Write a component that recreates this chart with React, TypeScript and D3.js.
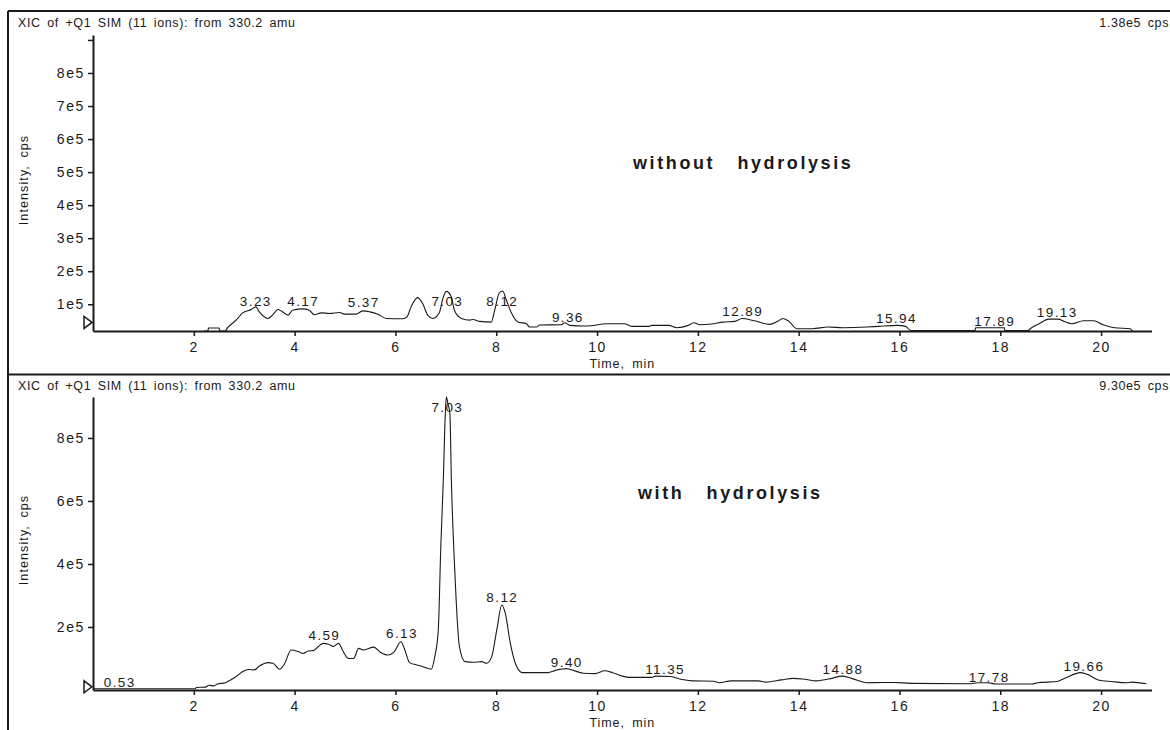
import React, { useRef, useEffect } from 'react';
import * as d3 from 'd3';

const headerText = 'XIC of +Q1 SIM (11 ions): from 330.2 amu';
const timeTicks = [2, 4, 6, 8, 10, 12, 14, 16, 18, 20];

// top panel: without hydrolysis
const topTitle = 'without  hydrolysis';
const topMaxLabel = '1.38e5 cps';
const topYTicks = [100000, 200000, 300000, 400000, 500000, 600000, 700000, 800000, 900000];
const topYLabelled = [100000, 200000, 300000, 400000, 500000, 600000, 700000, 800000];
const topTrace: [number, number][] = [
  [2.2, 19000], [2.28, 19000], [2.29, 28000], [2.5, 28000], [2.52, 19000], [2.62, 19000],
  [2.67, 29000], [2.84, 52000], [2.97, 74000], [3.14, 84000], [3.23, 92000], [3.3, 77000],
  [3.47, 57000], [3.56, 67000], [3.67, 84000], [3.73, 80000], [3.87, 67000], [3.96, 82000],
  [4.16, 86000], [4.29, 82000], [4.39, 68000], [4.53, 74000], [4.69, 72000], [4.89, 75000],
  [4.99, 70000], [5.22, 70000], [5.35, 80000], [5.49, 77000], [5.65, 70000], [5.82, 57000],
  [6.15, 56000], [6.23, 62000], [6.31, 92000], [6.44, 120000], [6.54, 102000], [6.64, 67000],
  [6.74, 57000], [6.87, 74000], [6.94, 117000], [7.01, 139000], [7.11, 122000], [7.17, 82000],
  [7.31, 57000], [7.47, 52000], [7.54, 54000], [7.67, 48000], [7.9, 46000], [7.97, 82000],
  [8.06, 134000], [8.13, 140000], [8.19, 117000], [8.3, 74000], [8.43, 46000], [8.6, 41000],
  [8.66, 31000], [8.8, 31000], [8.86, 37000], [9.29, 38000], [9.36, 44000], [9.46, 36000],
  [9.73, 34000], [9.88, 35000], [10.19, 41000], [10.54, 41000], [10.69, 33000], [11.04, 33000],
  [11.08, 36000], [11.42, 36000], [11.58, 29000], [11.81, 36000], [11.92, 44000], [12.04, 38000],
  [12.27, 40000], [12.5, 46000], [12.73, 48000], [12.88, 57000], [13.12, 50000], [13.42, 39000],
  [13.58, 48000], [13.69, 57000], [13.81, 48000], [13.96, 26000], [14.27, 26000], [14.58, 31000],
  [14.88, 29000], [15.35, 31000], [15.58, 33000], [15.96, 36000], [16.12, 33000], [16.23, 20000],
  [17.5, 20000], [17.51, 29000], [18.08, 29000], [18.09, 20000], [18.54, 20000], [18.62, 29000],
  [18.77, 41000], [18.96, 55000], [19.15, 55000], [19.27, 48000], [19.42, 41000], [19.65, 50000],
  [19.85, 50000], [20.04, 38000], [20.27, 29000], [20.58, 26000], [20.62, 19000],
];
// label text, retention time, label level (cps)
const topPeaks: [string, number, number][] = [
  ['3.23', 3.23, 109000], ['4.17', 4.17, 109000], ['5.37', 5.37, 105000], ['7.03', 7.03, 110000],
  ['8.12', 8.12, 110000], ['9.36', 9.42, 62000], ['12.89', 12.89, 80000], ['15.94', 15.94, 58000],
  ['17.89', 17.89, 49000], ['19.13', 19.13, 77000],
];

// bottom panel: with hydrolysis
const bottomTitle = 'with  hydrolysis';
const bottomMaxLabel = '9.30e5 cps';
const bottomYTicks = [200000, 400000, 600000, 800000];
const bottomTrace: [number, number][] = [
  [0, 4000], [2.03, 4000], [2.05, 8000], [2.23, 9000], [2.3, 15000], [2.4, 13000], [2.47, 19000],
  [2.63, 23000], [2.73, 32000], [2.83, 42000], [3.0, 61000], [3.1, 65000], [3.2, 64000],
  [3.3, 76000], [3.47, 87000], [3.57, 85000], [3.7, 66000], [3.8, 83000], [3.93, 127000],
  [4.07, 122000], [4.17, 116000], [4.27, 124000], [4.37, 125000], [4.47, 138000], [4.57, 148000],
  [4.67, 145000], [4.77, 138000], [4.87, 148000], [4.97, 120000], [5.07, 100000], [5.17, 100000],
  [5.27, 132000], [5.37, 127000], [5.57, 136000], [5.7, 120000], [5.85, 111000], [5.97, 120000],
  [6.11, 153000], [6.18, 130000], [6.28, 87000], [6.41, 80000], [6.55, 74000], [6.71, 66000],
  [6.78, 105000], [6.85, 190000], [6.9, 455000], [6.95, 667000], [6.99, 878000], [7.01, 930000],
  [7.04, 910000], [7.08, 878000], [7.11, 667000], [7.18, 370000], [7.27, 137000], [7.38, 90000],
  [7.55, 88000], [7.71, 90000], [7.81, 85000], [7.91, 106000], [8.01, 190000], [8.11, 270000],
  [8.18, 243000], [8.28, 148000], [8.39, 80000], [8.52, 55000], [9.02, 55000], [9.19, 63000],
  [9.39, 68000], [9.46, 66000], [9.73, 53000], [9.96, 52000], [10.15, 61000], [10.31, 55000],
  [10.5, 44000], [10.65, 40000], [11.08, 40000], [11.16, 44000], [11.46, 43000], [11.66, 34000],
  [11.89, 29000], [12.31, 28000], [12.43, 23000], [12.66, 29000], [13.2, 29000], [13.35, 25000],
  [13.66, 32000], [13.89, 37000], [14.12, 34000], [14.35, 29000], [14.66, 37000], [14.85, 44000],
  [15.05, 37000], [15.35, 23000], [15.66, 24000], [15.89, 24000], [16.24, 21000], [17.43, 20000],
  [17.55, 23000], [17.74, 23000], [17.93, 19000], [18.63, 19000], [18.74, 23000], [19.13, 27000],
  [19.28, 37000], [19.59, 55000], [19.75, 48000], [19.94, 32000], [20.21, 27000], [20.52, 23000],
  [20.6, 25000], [20.9, 20000],
];
const bottomPeaks: [string, number, number][] = [
  ['0.53', 0.53, 26000], ['4.59', 4.59, 175000], ['6.13', 6.13, 180000], ['7.03', 7.03, 899000],
  ['8.12', 8.12, 296000], ['9.40', 9.4, 90000], ['11.35', 11.35, 67000], ['14.88', 14.88, 67000],
  ['17.78', 17.78, 42000], ['19.66', 19.66, 77000],
];

const FONT = '"Liberation Sans", Arial, Helvetica, sans-serif';
const INK = '#1a1a1a';

const App = () => {
  const svgRef = useRef<SVGSVGElement | null>(null);

  useEffect(() => {
    const width = 1170;
    const height = 730;
    const svg = d3.select(svgRef.current);
    svg.selectAll('*').remove();
    svg.attr('width', width).attr('height', height);

    svg.append('rect').attr('width', width).attr('height', height).attr('fill', '#fff');

    // outer frame and separator
    svg.append('line').attr('x1', 8).attr('x2', width).attr('y1', 11).attr('y2', 11)
      .attr('stroke', INK).attr('stroke-width', 2);
    svg.append('line').attr('x1', 8).attr('x2', 8).attr('y1', 11).attr('y2', height)
      .attr('stroke', INK).attr('stroke-width', 2);
    svg.append('line').attr('x1', 8).attr('x2', width).attr('y1', 374.5).attr('y2', 374.5)
      .attr('stroke', INK).attr('stroke-width', 2);

    const x = d3.scaleLinear().domain([0, 21]).range([93, 1151.5]);

    const drawPanel = (opts: {
      top: number;
      y: d3.ScaleLinear<number, number>;
      yTicks: number[];
      yLabelled: number[];
      trace: [number, number][];
      peaks: [string, number, number][];
      maxLabel: string;
      title: string;
      titleX: number;
      titleY: number;
      marker: number;
      labelY: number;
    }) => {
      const { top, y } = opts;
      const g = svg.append('g').style('font-family', FONT);
      const baseY = y.range()[0];

      g.append('text')
        .attr('x', 18).attr('y', top + 15.5)
        .attr('font-size', 12.5).attr('letter-spacing', 0.6).attr('word-spacing', 2.5)
        .attr('fill', INK)
        .text(headerText);

      g.append('text')
        .attr('x', 1169).attr('y', top + 15.5)
        .attr('text-anchor', 'end')
        .attr('font-size', 12.5).attr('letter-spacing', 0.6).attr('word-spacing', 2.5)
        .attr('fill', INK)
        .text(opts.maxLabel);

      // y axis
      const yAxis = g.append('g')
        .attr('transform', `translate(${x(0)},0)`)
        .call(
          d3.axisLeft(y)
            .tickValues(opts.yTicks)
            .tickSize(5)
            .tickSizeOuter(0)
            .tickPadding(3)
            .tickFormat(d => (opts.yLabelled.includes(+d) ? `${+d / 100000}e5` : ''))
        );
      yAxis.select('.domain').attr('stroke', INK).attr('stroke-width', 2);
      yAxis.selectAll('.tick line').attr('stroke', INK).attr('stroke-width', 1.5);
      yAxis.selectAll('.tick text')
        .attr('font-size', 14).attr('letter-spacing', 1.6).attr('fill', INK)
        .style('font-family', FONT);

      // x axis
      const xAxis = g.append('g')
        .attr('transform', `translate(0,${baseY})`)
        .call(
          d3.axisBottom(x)
            .tickValues(timeTicks)
            .tickSize(5)
            .tickSizeOuter(0)
            .tickPadding(6)
            .tickFormat(d => `${d}`)
        );
      xAxis.select('.domain').attr('stroke', INK).attr('stroke-width', 2);
      xAxis.selectAll('.tick line').attr('stroke', INK).attr('stroke-width', 1.5);
      xAxis.selectAll('.tick text')
        .attr('font-size', 14).attr('letter-spacing', 1.6).attr('fill', INK)
        .style('font-family', FONT);

      g.append('text')
        .attr('x', (x.range()[0] + x.range()[1]) / 2).attr('y', baseY + 36.5)
        .attr('text-anchor', 'middle')
        .attr('font-size', 12.5).attr('letter-spacing', 0.9).attr('word-spacing', 3)
        .attr('fill', INK)
        .text('Time, min');

      g.append('text')
        .attr('transform', `translate(28,${opts.labelY}) rotate(-90)`)
        .attr('text-anchor', 'middle')
        .attr('font-size', 12.5).attr('letter-spacing', 1.1).attr('word-spacing', 3)
        .attr('fill', INK)
        .text('Intensity, cps');

      // threshold marker
      const my = y(opts.marker);
      g.append('path')
        .attr('d', `M${x(0) - 1},${my} L${x(0) - 9},${my - 6} L${x(0) - 9},${my + 6} Z`)
        .attr('fill', '#fff').attr('stroke', INK).attr('stroke-width', 1.5);

      const line = d3.line<[number, number]>()
        .x(d => x(d[0]))
        .y(d => y(d[1]))
        .curve(d3.curveMonotoneX);

      g.append('path')
        .datum(opts.trace)
        .attr('fill', 'none')
        .attr('stroke', INK)
        .attr('stroke-width', 1.1)
        .attr('stroke-linejoin', 'round')
        .attr('d', line);

      g.selectAll('.peak')
        .data(opts.peaks)
        .enter()
        .append('text')
        .attr('class', 'peak')
        .attr('x', d => x(d[1]))
        .attr('y', d => y(d[2]))
        .attr('dy', '0.36em')
        .attr('text-anchor', 'middle')
        .attr('font-size', 13.5).attr('letter-spacing', 1.4)
        .attr('fill', INK)
        .text(d => d[0]);

      g.append('text')
        .attr('x', opts.titleX).attr('y', opts.titleY)
        .attr('font-size', 18).attr('font-weight', 'bold')
        .attr('letter-spacing', 2.6).attr('word-spacing', 3.5)
        .attr('fill', INK)
        .style('white-space', 'pre')
        .text(opts.title);
    };

    drawPanel({
      top: 11,
      y: d3.scaleLinear().domain([19000, 915000]).range([331, 35]),
      yTicks: topYTicks,
      yLabelled: topYLabelled,
      trace: topTrace,
      peaks: topPeaks,
      maxLabel: topMaxLabel,
      title: topTitle,
      titleX: 633,
      titleY: 169,
      marker: 45000,
      labelY: 180,
    });

    drawPanel({
      top: 374.5,
      y: d3.scaleLinear().domain([0, 930000]).range([690, 397]),
      yTicks: bottomYTicks,
      yLabelled: bottomYTicks,
      trace: bottomTrace,
      peaks: bottomPeaks,
      maxLabel: bottomMaxLabel,
      title: bottomTitle,
      titleX: 638,
      titleY: 499,
      marker: 10000,
      labelY: 540,
    });
  }, []);

  return (
    <svg
      ref={svgRef}
      style={{ position: 'absolute', left: 0, top: 0, display: 'block' }}
    ></svg>
  );
};

export default App;
